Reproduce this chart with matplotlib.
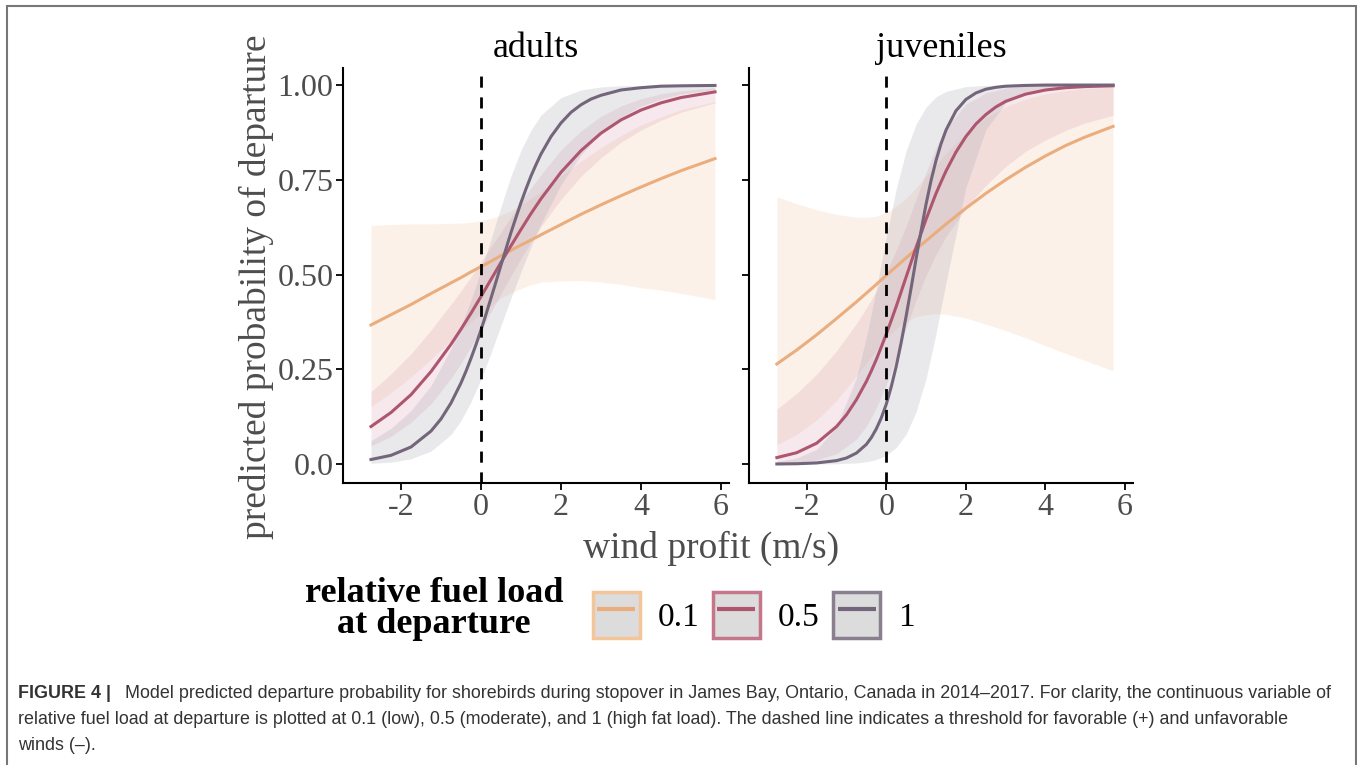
import matplotlib
matplotlib.use("Agg")
import matplotlib.pyplot as plt
from matplotlib.patches import Patch, Rectangle
from matplotlib.lines import Line2D

plt.rcParams["axes.unicode_minus"] = False

# wind profit (m/s) grid where the curves were read
wind_adults = [-2.75, -2.25, -1.75, -1.25, -0.75, -0.5, -0.25, 0, 0.25, 0.5, 0.75,
               1, 1.25, 1.5, 2, 2.5, 3, 3.5, 4, 4.5, 5, 5.85]
wind_juv = [-2.75, -2.25, -1.75, -1.25, -0.75, -0.5, -0.25, 0, 0.25, 0.5, 0.75,
            1, 1.25, 1.5, 2, 2.5, 3, 3.5, 4, 4.5, 5, 5.7]
# finer grid for the steep curves
wind_adults_fine = [-2.75, -2.25, -1.75, -1.25, -1, -0.75, -0.5, -0.375, -0.25, -0.125, 0,
                    0.125, 0.25, 0.375, 0.5, 0.625, 0.75, 0.875, 1, 1.125, 1.25, 1.375, 1.5,
                    1.75, 2, 2.25, 2.5, 2.75, 3, 3.5, 4, 4.5, 5, 5.85]
wind_juv_fine = [-2.75, -2.25, -1.75, -1.25, -1, -0.75, -0.5, -0.375, -0.25, -0.125, 0,
                 0.125, 0.25, 0.375, 0.5, 0.625, 0.75, 0.875, 1, 1.125, 1.25, 1.375, 1.5,
                 1.75, 2, 2.25, 2.5, 2.75, 3, 3.5, 4, 4.5, 5, 5.7]

# adults
ad_01 = [0.367, 0.394, 0.421, 0.450, 0.478, 0.492, 0.507, 0.521, 0.535, 0.550, 0.564,
         0.578, 0.591, 0.605, 0.632, 0.659, 0.684, 0.708, 0.731, 0.753, 0.774, 0.806]
ad_01_lo = [0.151, 0.188, 0.230, 0.276, 0.326, 0.350, 0.375, 0.397, 0.418, 0.438, 0.452,
            0.463, 0.473, 0.480, 0.483, 0.484, 0.480, 0.474, 0.465, 0.459, 0.450, 0.434]
ad_01_hi = [0.630, 0.632, 0.634, 0.634, 0.635, 0.636, 0.638, 0.642, 0.648, 0.657, 0.669,
            0.684, 0.701, 0.719, 0.760, 0.799, 0.835, 0.867, 0.895, 0.916, 0.935, 0.957]
ad_05 = [0.099, 0.136, 0.183, 0.244, 0.316, 0.356, 0.398, 0.442, 0.487, 0.532, 0.576,
         0.619, 0.661, 0.700, 0.770, 0.827, 0.873, 0.908, 0.934, 0.953, 0.967, 0.982]
ad_05_lo = [0.048, 0.073, 0.110, 0.159, 0.226, 0.266, 0.310, 0.354, 0.401, 0.449, 0.497,
            0.542, 0.586, 0.627, 0.698, 0.759, 0.808, 0.849, 0.881, 0.907, 0.928, 0.953]
ad_05_hi = [0.191, 0.238, 0.291, 0.354, 0.422, 0.457, 0.494, 0.534, 0.574, 0.612, 0.652,
            0.692, 0.728, 0.764, 0.829, 0.879, 0.918, 0.945, 0.964, 0.977, 0.985, 0.993]
ad_1 = [0.012, 0.023, 0.045, 0.087, 0.119, 0.161, 0.214, 0.245, 0.279, 0.315, 0.354,
        0.395, 0.438, 0.481, 0.525, 0.568, 0.611, 0.651, 0.690, 0.726, 0.760, 0.790, 0.818,
        0.864, 0.900, 0.928, 0.948, 0.963, 0.973, 0.987, 0.993, 0.997, 0.998, 0.999]
ad_1_lo = [0.002, 0.005, 0.014, 0.034, 0.078, 0.115, 0.164, 0.224, 0.293, 0.366, 0.438,
           0.507, 0.574, 0.634, 0.737, 0.816, 0.874, 0.915, 0.944, 0.963, 0.976, 0.988]
ad_1_hi = [0.062, 0.094, 0.141, 0.207, 0.304, 0.364, 0.433, 0.510, 0.594, 0.679, 0.760,
           0.828, 0.881, 0.921, 0.967, 0.987, 0.995, 0.998, 0.999, 1.0, 1.0, 1.0]

# juveniles
jv_01 = [0.264, 0.301, 0.341, 0.384, 0.428, 0.451, 0.474, 0.498, 0.521, 0.544, 0.567,
         0.589, 0.611, 0.633, 0.675, 0.714, 0.750, 0.783, 0.813, 0.840, 0.863, 0.891]
jv_01_lo = [0.051, 0.078, 0.116, 0.168, 0.232, 0.266, 0.301, 0.332, 0.357, 0.376, 0.389,
            0.394, 0.397, 0.395, 0.385, 0.369, 0.352, 0.333, 0.312, 0.292, 0.273, 0.246]
jv_01_hi = [0.705, 0.687, 0.671, 0.659, 0.651, 0.651, 0.654, 0.664, 0.680, 0.702, 0.729,
            0.760, 0.790, 0.820, 0.873, 0.914, 0.943, 0.963, 0.977, 0.985, 0.991, 0.995]
jv_05 = [0.017, 0.030, 0.055, 0.099, 0.130, 0.170, 0.218, 0.246, 0.276, 0.309, 0.343,
         0.379, 0.416, 0.455, 0.494, 0.533, 0.572, 0.609, 0.646, 0.680, 0.714, 0.744, 0.773,
         0.823, 0.864, 0.897, 0.922, 0.942, 0.957, 0.976, 0.987, 0.993, 0.996, 0.998]
jv_05_lo = [0.002, 0.004, 0.011, 0.027, 0.066, 0.100, 0.148, 0.209, 0.281, 0.360, 0.432,
            0.498, 0.553, 0.600, 0.675, 0.735, 0.785, 0.825, 0.855, 0.880, 0.900, 0.920]
jv_05_hi = [0.145, 0.187, 0.237, 0.299, 0.371, 0.412, 0.457, 0.507, 0.565, 0.628, 0.700,
            0.770, 0.834, 0.886, 0.950, 0.979, 0.992, 0.997, 0.999, 1.0, 1.0, 1.0]
jv_1 = [0.0002, 0.0008, 0.003, 0.009, 0.016, 0.029, 0.052, 0.070, 0.093, 0.122, 0.158,
        0.204, 0.258, 0.321, 0.391, 0.465, 0.542, 0.616, 0.686, 0.748, 0.801, 0.845, 0.881,
        0.932, 0.962, 0.979, 0.989, 0.994, 0.997, 0.999, 1.0, 1.0, 1.0, 1.0]
jv_1_lo = [0.0, 0.0, 0.0002, 0.0007, 0.003, 0.006, 0.012, 0.023, 0.044, 0.079, 0.138,
           0.226, 0.344, 0.479, 0.729, 0.882, 0.953, 0.981, 0.993, 0.998, 0.999, 1.0]
jv_1_hi = [0.006, 0.016, 0.039, 0.098, 0.228, 0.335, 0.462, 0.599, 0.726, 0.827, 0.897,
           0.942, 0.969, 0.983, 0.996, 0.999, 1.0, 1.0, 1.0, 1.0, 1.0, 1.0]

fuel_labels = ["0.1", "0.5", "1"]
line_cols = ["#EAAD7E", "#AE5670", "#73667A"]
edge_cols = ["#F5C59A", "#C4768B", "#8A7F8F"]
band_cols = ["#F8D9C2", "#D79AAA", "#A9A8B4"]
band_alpha = [0.35, 0.22, 0.25]

panels = [
    ("adults", wind_adults,
     [(wind_adults, ad_01, ad_01_lo, ad_01_hi),
      (wind_adults, ad_05, ad_05_lo, ad_05_hi),
      (wind_adults_fine, ad_1, ad_1_lo, ad_1_hi)]),
    ("juveniles", wind_juv,
     [(wind_juv, jv_01, jv_01_lo, jv_01_hi),
      (wind_juv_fine, jv_05, jv_05_lo, jv_05_hi),
      (wind_juv_fine, jv_1, jv_1_lo, jv_1_hi)]),
]

serif = "Liberation Serif"
W, H = 1357, 765
fig = plt.figure(figsize=(W / 100, H / 100), dpi=100)

axes = []
for i, (name, xs, series) in enumerate(panels):
    x0 = [343, 749][i]
    w = [386, 384][i]
    ax = fig.add_axes([x0 / W, 1 - 483 / H, w / W, (483 - 68) / H])
    for (xl, mid, lo, hi), bc, a in zip(series, band_cols, band_alpha):
        ax.fill_between(xs, lo, hi, color=bc, alpha=a, lw=0)
    for (xl, mid, lo, hi), lc in zip(series, line_cols):
        ax.plot(xl, mid, color=lc, lw=2.2)
    ax.axvline(0, color="black", lw=2, linestyle=(0, (4, 3.5)))
    ax.set_xlim(-3.45, 6.2)
    ax.set_ylim(-0.05, 1.045)
    ax.set_xticks([-2, 0, 2, 4, 6])
    ax.set_yticks([0, 0.25, 0.5, 0.75, 1.0])
    ax.set_yticklabels(["0.0", "0.25", "0.50", "0.75", "1.00"])
    for s in ["top", "right"]:
        ax.spines[s].set_visible(False)
    for s in ["left", "bottom"]:
        ax.spines[s].set_linewidth(1.5)
    ax.tick_params(length=5, width=1.3, labelsize=23, labelcolor="#4D4D4D", pad=2)
    for lab in ax.get_xticklabels() + ax.get_yticklabels():
        lab.set_fontfamily(serif)
    if i == 1:
        ax.set_yticklabels([])
    ax.set_title(name, fontsize=26, family=serif, pad=8)
    axes.append(ax)

axes[0].set_ylabel("predicted probability of departure", fontsize=27, family=serif,
                   color="#4D4D4D")
axes[0].yaxis.set_label_coords(-0.178, 0.472)
fig.text(711 / W, 1 - 548 / H, "wind profit (m/s)", fontsize=27, family=serif,
         color="#4D4D4D", ha="center", va="center")

# legend
fig.text(434 / W, 1 - 609 / H, "relative fuel load\nat departure", fontsize=26,
         family=serif, weight="bold", ha="center", va="center", linespacing=0.95)
handles = [(Patch(facecolor="#DCDCDC", edgecolor=ec, lw=2.5),
            Line2D([], [], marker="_", markersize=27, mew=3, linestyle="None", color=lc))
           for ec, lc in zip(edge_cols, line_cols)]
fig.legend(handles, fuel_labels, loc="center left", bbox_to_anchor=(593 / W, 1 - 615 / H),
           ncol=3, frameon=False, prop={"family": serif, "size": 24}, numpoints=1,
           handlelength=1.4, handleheight=1.75, handletextpad=0.55, columnspacing=0.4,
           borderpad=0, borderaxespad=0)

# caption
cap = dict(fontsize=12.9, family="Liberation Sans", color="#333333", va="baseline")
fig.text(18 / W, 1 - 698 / H, "FIGURE 4 |", weight="bold", **cap)
fig.text(125 / W, 1 - 698 / H,
         "Model predicted departure probability for shorebirds during stopover in James Bay, "
         "Ontario, Canada in 2014\u20132017. For clarity, the continuous variable of", **cap)
fig.text(18 / W, 1 - 724 / H,
         "relative fuel load at departure is plotted at 0.1 (low), 0.5 (moderate), and 1 "
         "(high fat load). The dashed line indicates a threshold for favorable (+) and unfavorable",
         **cap)
fig.text(18 / W, 1 - 750 / H, "winds (\u2013).", **cap)

# outer frame
fig.patches.append(Rectangle((7 / W, -0.05), (1356 - 7) / W, 1.05 - 6 / H,
                             transform=fig.transFigure, fill=False,
                             edgecolor="#777777", lw=1.5))

fig.savefig("out.png", dpi=100)
